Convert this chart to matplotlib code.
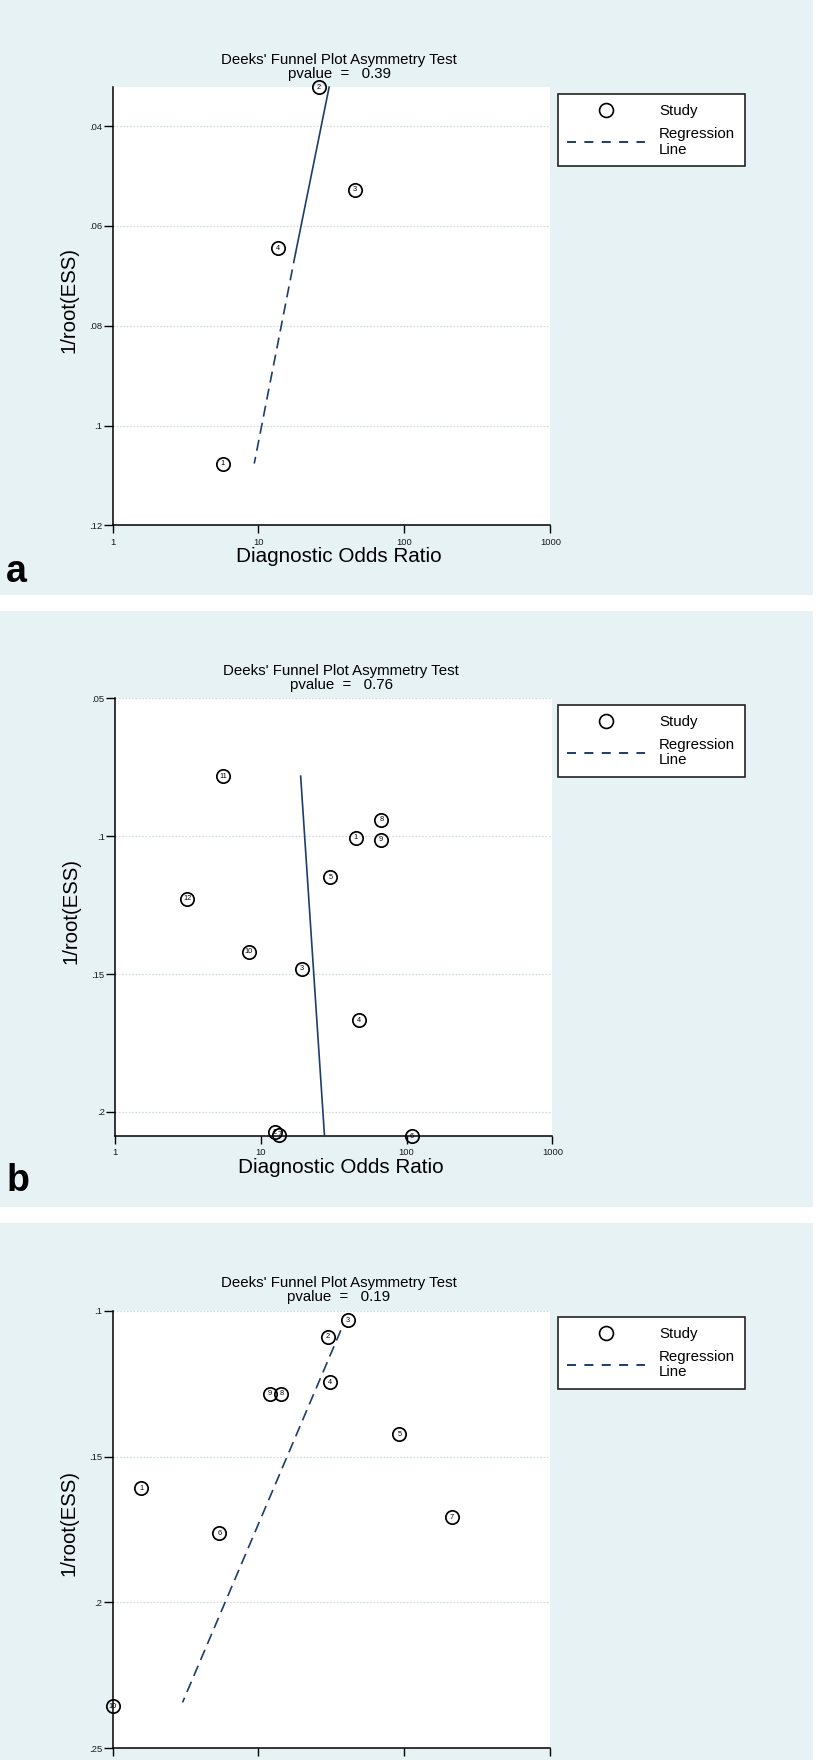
import matplotlib
matplotlib.use("Agg")
import matplotlib.pyplot as plt
from matplotlib.lines import Line2D
from matplotlib.patches import Rectangle
from matplotlib.ticker import NullLocator, FixedLocator, FixedFormatter

plt.rcParams['font.family'] = ['Liberation Sans', 'DejaVu Sans']
plt.rcParams['lines.scale_dashes'] = False

# ---------------- data ----------------
title_text = "Deeks' Funnel Plot Asymmetry Test"
xlabel_text = "Diagnostic Odds Ratio"
ylabel_text = "1/root(ESS)"
legend_labels = ["Study", "Regression\nLine"]
x_ticks = [1, 10, 100, 1000]
x_ticklabels = ["1", "10", "100", "1000"]

# panel a
a_pvalue = "0.39"
a_study = [1, 2, 3, 4]
a_dor = [5.71, 26.0, 45.6, 13.6]
a_iess = [0.1076, 0.0322, 0.0527, 0.0645]
a_line_dor = [30.5, 18.0, 9.36]
a_line_iess = [0.0322, 0.0653, 0.1076]
a_yticks = [0.04, 0.06, 0.08, 0.10, 0.12]
a_yticklabels = [".04", ".06", ".08", ".1", ".12"]
a_ylim = (0.12, 0.0322)

# panel b
b_pvalue = "0.76"
b_study = [1, 2, 3, 4, 5, 6, 7, 8, 9, 10, 11, 12]
b_dor = [45.0, 12.5, 19.1, 47.3, 30.1, 109.0, 13.4, 67.2, 66.7, 8.27, 5.53, 3.15]
b_iess = [0.1005, 0.2074, 0.1480, 0.1667, 0.1149, 0.2088, 0.2082,
          0.0940, 0.1012, 0.1419, 0.0782, 0.1226]
b_line_dor = [18.8, 27.4]
b_line_iess = [0.0782, 0.2088]
b_yticks = [0.05, 0.10, 0.15, 0.20]
b_yticklabels = [".05", ".1", ".15", ".2"]
b_ylim = (0.2088, 0.05)

# panel c
c_pvalue = "0.19"
c_study = [1, 2, 3, 4, 5, 6, 7, 8, 9, 10]
c_dor = [1.57, 30.0, 40.9, 31.0, 92.3, 5.39, 211.0, 14.35, 11.94, 1.0]
c_iess = [0.1608, 0.1089, 0.1032, 0.1245, 0.1423, 0.1763, 0.1708,
          0.1285, 0.1285, 0.2357]
c_line_dor = [36.7, 3.02]
c_line_iess = [0.1067, 0.2343]
c_yticks = [0.10, 0.15, 0.20, 0.25]
c_yticklabels = [".1", ".15", ".2", ".25"]
c_ylim = (0.25, 0.10)

# ---------------- style ----------------
W, H = 832, 1760
BG = '#e7f2f5'
NAVY = '#1d3d6b'
GRID = '#cddbe1'
DASH = (0, (8.0, 4.5))

fig = plt.figure(figsize=(W / 100, H / 100), dpi=100)
fig.patch.set_facecolor('white')

def px_rect(x0, y0, x1, y1):
    return [x0 / W, 1 - y1 / H, (x1 - x0) / W, (y1 - y0) / H]

# panel backgrounds
for (y0, y1) in [(0, 595), (611, 1207), (1223, 1760)]:
    fig.patches.append(Rectangle((0, 1 - y1 / H), 813 / W, (y1 - y0) / H,
                                 transform=fig.transFigure, facecolor=BG,
                                 edgecolor='none', zorder=-10))


def make_panel(box, study, dor, iess, line_segments, yticks, yticklabels,
               ylim, pvalue, letter, legend_top, show_xtext=True):
    ax = fig.add_axes(px_rect(*box))
    ax.set_facecolor('white')
    ax.set_xscale('log')
    ax.set_xlim(1, 1000)
    ax.set_ylim(*ylim)
    ax.xaxis.set_major_locator(FixedLocator(x_ticks))
    ax.xaxis.set_major_formatter(FixedFormatter(x_ticklabels))
    ax.xaxis.set_minor_locator(NullLocator())
    ax.yaxis.set_major_locator(FixedLocator(yticks))
    ax.yaxis.set_major_formatter(FixedFormatter(yticklabels))
    ax.yaxis.set_minor_locator(NullLocator())
    for s in ['top', 'right']:
        ax.spines[s].set_visible(False)
    for s in ['left', 'bottom']:
        ax.spines[s].set_linewidth(1.1)
        ax.spines[s].set_color('black')
    ax.tick_params(axis='y', direction='out', length=6.5, width=1.0,
                   pad=0.8, labelsize=6.8, labelcolor='#1a1a1a')
    ax.tick_params(axis='x', direction='out', length=5.8, width=1.0,
                   pad=3.0, labelsize=6.8, labelcolor='#1a1a1a',
                   labelbottom=show_xtext)
    ax.grid(axis='y', color=GRID, linewidth=0.9, linestyle=(0, (1.2, 1.2)))
    ax.grid(axis='x', visible=False)
    ax.set_axisbelow(True)

    # regression line segments
    for (xs, ys, ls) in line_segments:
        ax.plot(xs, ys, color=NAVY, linewidth=1.2, linestyle=ls,
                clip_on=False, zorder=3)

    # study markers
    ax.plot(dor, iess, linestyle='none', marker='o', markersize=9.6,
            markerfacecolor='none', markeredgecolor='black',
            markeredgewidth=1.25, clip_on=False, zorder=4)
    for s, xv, yv in zip(study, dor, iess):
        ax.text(xv, yv, str(s), fontsize=5.3, ha='center', va='center',
                color='black', clip_on=False, zorder=5)

    # title block
    ax.annotate(title_text + "\npvalue  =   " + pvalue,
                xy=(0.5, 1.0), xycoords='axes fraction',
                xytext=(5.5, 14.8), textcoords='offset points',
                ha='center', va='center', fontsize=10.8, linespacing=1.02)
    # axis labels
    if show_xtext:
        ax.annotate(xlabel_text, xy=(0.5, 0.0), xycoords='axes fraction',
                    xytext=(5.4, -22.7), textcoords='offset points',
                    ha='center', va='center', fontsize=14.9)
    ax.annotate(ylabel_text, xy=(0.0, 0.5), xycoords='axes fraction',
                xytext=(-31.3, 4.7), textcoords='offset points',
                ha='center', va='center', fontsize=14.6, rotation=90)

    # legend
    h_study = Line2D([], [], linestyle='none', marker='o', markersize=10,
                     markerfacecolor='none', markeredgecolor='black',
                     markeredgewidth=1.2)
    h_line = Line2D([], [], color=NAVY, linewidth=1.4,
                    linestyle=(0, (6.5, 6.0)))
    leg = ax.legend([h_study, h_line], legend_labels, loc='upper left',
                    bbox_to_anchor=(557.7 / W, 1 - legend_top / H),
                    bbox_transform=fig.transFigure, frameon=True,
                    fancybox=False, framealpha=1, facecolor='white',
                    edgecolor='#222222', fontsize=10.8, handlelength=5.2,
                    handletextpad=0.9, borderpad=0.65, labelspacing=0.62,
                    borderaxespad=0)
    leg.get_frame().set_linewidth(1.2)
    for t in leg.get_texts():
        t.set_linespacing(1.12)

    if letter:
        fig.text(letter[1] / W, 1 - letter[2] / H, letter[0], fontsize=27,
                 fontweight='bold', ha='left', va='baseline')
    return ax


make_panel((112.5, 87.2, 550.3, 525.4), a_study, a_dor, a_iess,
           [(a_line_dor[:2], a_line_iess[:2], '-'),
            (a_line_dor[1:], a_line_iess[1:], DASH)],
           a_yticks, a_yticklabels, a_ylim, a_pvalue, ('a', 6, 582), 94.3)

make_panel((114.8, 698.4, 552.4, 1136.2), b_study, b_dor, b_iess,
           [(b_line_dor, b_line_iess, '-')],
           b_yticks, b_yticklabels, b_ylim, b_pvalue, ('b', 7, 1191), 705.0)

make_panel((112.5, 1310.7, 550.3, 1748.2), c_study, c_dor, c_iess,
           [(c_line_dor, c_line_iess, DASH)],
           c_yticks, c_yticklabels, c_ylim, c_pvalue, None, 1317.0,
           show_xtext=False)

fig.savefig('out.png', dpi=100, facecolor=fig.get_facecolor())
